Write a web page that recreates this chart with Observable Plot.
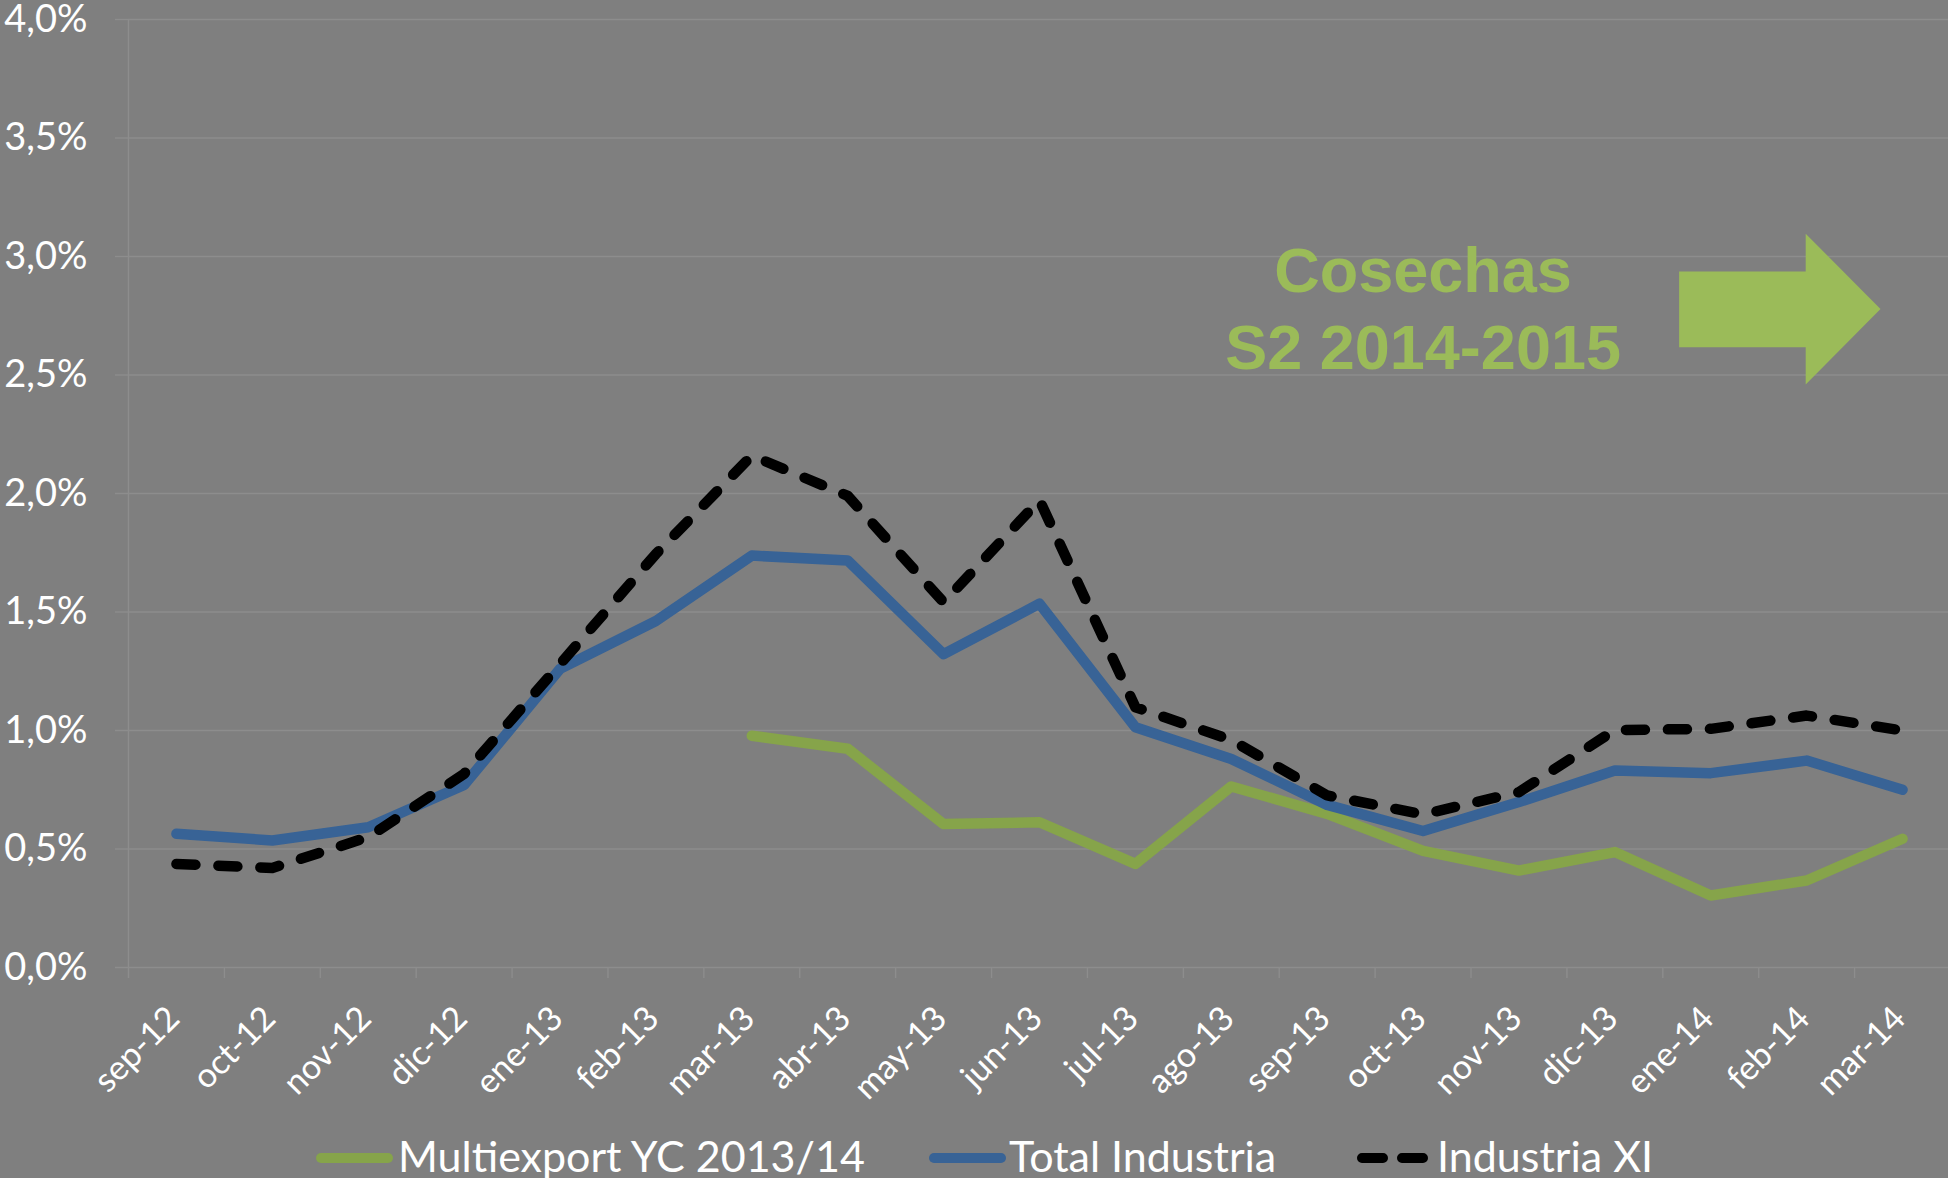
<!DOCTYPE html>
<html><head><meta charset="utf-8">
<script src="https://cdn.jsdelivr.net/npm/d3@7"></script>
<script src="https://cdn.jsdelivr.net/npm/@observablehq/plot@0.6"></script>
<style>
html,body{margin:0;padding:0;background:#7f7f7f;width:1948px;height:1178px;overflow:hidden;}
#chart{position:absolute;left:0;top:0;}
#legend{position:absolute;left:0;top:1120px;height:58px;overflow:hidden;}
svg{display:block;}
</style></head><body>
<div id="chart"></div><div id="legend"></div>
<script>
// ---- data (values in %) ----
const months = ["sep-12","oct-12","nov-12","dic-12","ene-13","feb-13","mar-13","abr-13","may-13","jun-13","jul-13","ago-13","sep-13","oct-13","nov-13","dic-13","ene-14","feb-14","mar-14"];
const multiexport = [null,null,null,null,null,null,0.978,0.923,0.605,0.613,0.437,0.764,0.648,0.492,0.409,0.487,0.304,0.367,0.543];
const totalIndustria = [0.564,0.536,0.592,0.770,1.260,1.462,1.738,1.717,1.322,1.535,1.014,0.880,0.686,0.576,0.698,0.831,0.820,0.873,0.750];
const industriaXI = [0.437,0.420,0.550,0.817,1.280,1.745,2.160,1.990,1.541,1.972,1.098,0.960,0.726,0.646,0.740,1.002,1.007,1.063,1.000];
const yTicks = [0,0.5,1,1.5,2,2.5,3,3.5,4];
const seriesNames = ["Multiexport YC 2013/14","Total Industria","Industria XI"];
const seriesColors = ["#86a44a","#386396","#000000"];
const annotationLines = ["Cosechas","S2 2014-2015"];
const annotationX = [13,13];
const annotationY = [2.852,2.526];
const arrowX = [15.67,16.99,16.99,17.77,16.99,16.99,15.67];
const arrowY = [2.937,2.937,3.096,2.779,2.46,2.617,2.617];

const gridColor = "#8d8d8d";
const green = "#9bbb59";
const boundaries = d3.range(-0.5, months.length, 1);
const fmt = d => d.toFixed(1).replace(".", ",") + "%";
const rows = vals => vals.map((v,i)=>({i, v}));

const plot = Plot.plot({
  width: 1948, height: 1120,
  marginLeft: 128, marginRight: 0, marginTop: 19, marginBottom: 153,
  style: {background: "transparent", color: "#fff", fontFamily: "Lato", overflow: "visible"},
  x: {domain: [-0.5, 18.5], range: [128, 1950], axis: null},
  y: {domain: [0, 4], range: [967, 19], axis: null},
  marks: [
    Plot.gridY(yTicks, {stroke: gridColor, strokeOpacity: 1, strokeWidth: 1.4}),
    Plot.axisY(yTicks, {tickSize: 13, tickPadding: 28, tickFormat: fmt, stroke: gridColor, strokeWidth: 1.4, fill: "#fff", fontSize: 38, fontFamily: "Lato"}),
    Plot.ruleX([-0.5], {stroke: gridColor, strokeWidth: 1.4}),
    Plot.axisX(boundaries, {tickSize: 11, tickFormat: () => "", stroke: gridColor, strokeWidth: 1.4}),
    Plot.text(months, {x: (d,i)=>i, text: d=>d, frameAnchor: "bottom", dx: 5, dy: 53, rotate: -45, textAnchor: "end", lineAnchor: "bottom", fill: "#fff", fontSize: 34, fontFamily: "Lato"}),
    Plot.line(rows(multiexport), {x: "i", y: "v", stroke: seriesColors[0], strokeWidth: 10.5, strokeLinecap: "round", strokeLinejoin: "round"}),
    Plot.line(rows(totalIndustria), {x: "i", y: "v", stroke: seriesColors[1], strokeWidth: 10.5, strokeLinecap: "round", strokeLinejoin: "round"}),
    Plot.line(rows(industriaXI), {x: "i", y: "v", stroke: seriesColors[2], strokeWidth: 10.5, strokeLinecap: "round", strokeLinejoin: "round", strokeDasharray: "19,23"}),
    Plot.text(annotationLines, {x: (d,i)=>annotationX[i], y: (d,i)=>annotationY[i], text: d=>d, textAnchor: "middle", lineAnchor: "bottom", fill: green, fontSize: 63, fontWeight: "bold", fontFamily: "Liberation Sans"}),
    Plot.line(arrowX.map((x,i)=>({x, y: arrowY[i]})), {x: "x", y: "y", fill: green, stroke: "none"})
  ]
});
document.getElementById("chart").appendChild(plot);

// ---- legend below the chart ----
const leg = d3.select("#legend").append("svg").attr("width", 1948).attr("height", 58);
const legendItems = [
  {x1: 321, x2: 388, tx: 398, dash: null},
  {x1: 934, x2: 1001, tx: 1009, dash: null},
  {x1: 1362, x2: 1424, tx: 1437, dash: "21,19"}
];
legendItems.forEach((it, k) => {
  leg.append("line").attr("x1", it.x1).attr("x2", it.x2).attr("y1", 38).attr("y2", 38)
    .attr("stroke", seriesColors[k]).attr("stroke-width", 10).attr("stroke-linecap", "round")
    .attr("stroke-dasharray", it.dash);
  leg.append("text").attr("x", it.tx).attr("y", 52).attr("fill", "#fff")
    .attr("font-family", "Lato").attr("font-size", 43).text(seriesNames[k]);
});
</script>
</body></html>
